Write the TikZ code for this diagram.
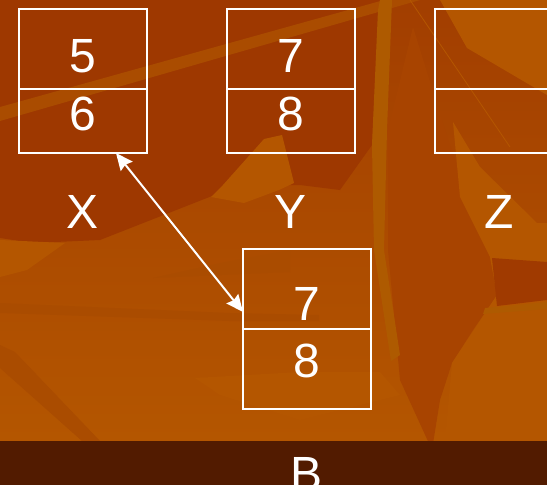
\documentclass[tikz,border=0pt]{standalone}
\usepackage{fontspec}
\setmainfont{Liberation Sans}
\usetikzlibrary{arrows.meta}
\definecolor{bgtop}{RGB}{162,62,0}
\definecolor{bgbot}{RGB}{180,86,0}
\definecolor{darktop}{RGB}{158,56,0}
\definecolor{streak}{RGB}{170,76,0}
\definecolor{bright}{RGB}{174,90,0}
\definecolor{midor}{RGB}{168,68,0}
\definecolor{lightor}{RGB}{180,86,0}
\definecolor{darkor}{RGB}{160,58,0}
\definecolor{band}{RGB}{82,27,0}
\tikzset{
  cell/.style={draw=white, line width=2pt, minimum width=128pt, inner sep=0pt, outer sep=0pt},
  lbl/.style={text=white, font=\fontsize{48}{58}\selectfont, anchor=base, inner sep=0pt},
  link/.style={draw=white, line width=2pt, {Stealth[length=17pt,width=15pt,inset=2pt]}-{Stealth[length=17pt,width=15pt,inset=2pt]}}
}
\begin{document}
\begin{tikzpicture}[x=1pt,y=-1pt]
\useasboundingbox (0,0) rectangle (547,485);
% background
\shade[top color=bgtop, bottom color=bgbot] (0,0) rectangle (547,441);
\fill[darktop] (0,0) -- (380,0) -- (372,145) -- (340,190) -- (300,185) -- (240,185) -- (100,240) -- (33,243) -- (0,238) -- cycle;
\fill[lightor] (0,240) -- (65,243) -- (27,270) -- (0,277) -- cycle;
\fill[streak] (0,107) -- (384,0) -- (420,0) -- (0,121) -- cycle;
\fill[lightor] (264,139) -- (282,135) -- (294,183) -- (279,190) -- (244,203) -- (211,197) -- (223,185) -- cycle;
\fill[streak] (153,278) -- (225,262) -- (290,250) -- (290,272) -- cycle;
% right side
\fill[lightor] (440,0) -- (547,0) -- (547,95) -- (467,48) -- cycle;
\fill[midor] (413,27) -- (445,130) -- (490,257) -- (497,295) -- (473,330) -- (452,363) -- (440,400) -- (432,450) -- (400,380) -- (388,250) -- (388,130) -- cycle;
\fill[lightor] (453,122) -- (480,167) -- (537,223) -- (547,223) -- (547,441) -- (445,441) -- (452,363) -- (497,295) -- (490,257) -- (460,197) -- cycle;
\fill[darkor] (492,258) -- (547,262) -- (547,300) -- (497,306) -- cycle;
\fill[bright] (485,308) -- (547,302) -- (547,309) -- (483,314) -- cycle;
\fill[bright] (380,0) -- (392,0) -- (387,130) -- (384,250) -- (400,355) -- (391,361) -- (374,250) -- (372,145) -- (378,10) -- cycle;
\draw[lightor, line width=0.8pt] (410,0) -- (510,147);
% lower left
\fill[streak] (0,303) -- (230,313) -- (319,315) -- (319,321) -- (230,321) -- (0,313) -- cycle;
\fill[lightor] (195,378) -- (300,372) -- (380,372) -- (400,395) -- (300,420) -- (220,395) -- cycle;
\fill[streak] (0,345) -- (15,352) -- (100,441) -- (82,441) -- (0,368) -- cycle;
\fill[band] (0,441) rectangle (547,485);
% boxes
\node[cell, minimum height=80pt] (xtop) at (83,49) {};
\node[cell, minimum height=64pt, anchor=north] (xbot) at (xtop.south) {};
\node[cell, minimum height=80pt] (ytop) at (291,49) {};
\node[cell, minimum height=64pt, anchor=north] (ybot) at (ytop.south) {};
\node[cell, minimum height=80pt] (ztop) at (499,49) {};
\node[cell, minimum height=64pt, anchor=north] (zbot) at (ztop.south) {};
\node[cell, minimum height=80pt] (btop) at (307,289) {};
\node[cell, minimum height=80pt, anchor=north] (bbot) at (btop.south) {};
% texts
\node[lbl] (t5) at (83,72) {5};
\node[lbl] (t6) at (83,130) {6};
\node[lbl] (t7) at (291,72) {7};
\node[lbl] (t8) at (291,130) {8};
\node[lbl] (lx) at (83,228) {X};
\node[lbl] (ly) at (291,228) {Y};
\node[lbl] (lz) at (499,228) {Z};
\node[lbl] (tb7) at (307,320) {7};
\node[lbl] (tb8) at (307,377) {8};
\node[lbl] (lb) at (307,490) {B};
% connector
\coordinate (ea) at ([xshift=33pt]xbot.south);
\coordinate (eb) at ([yshift=-23pt]btop.west);
\draw[link] (ea) -- (eb);
\end{tikzpicture}
\end{document}
